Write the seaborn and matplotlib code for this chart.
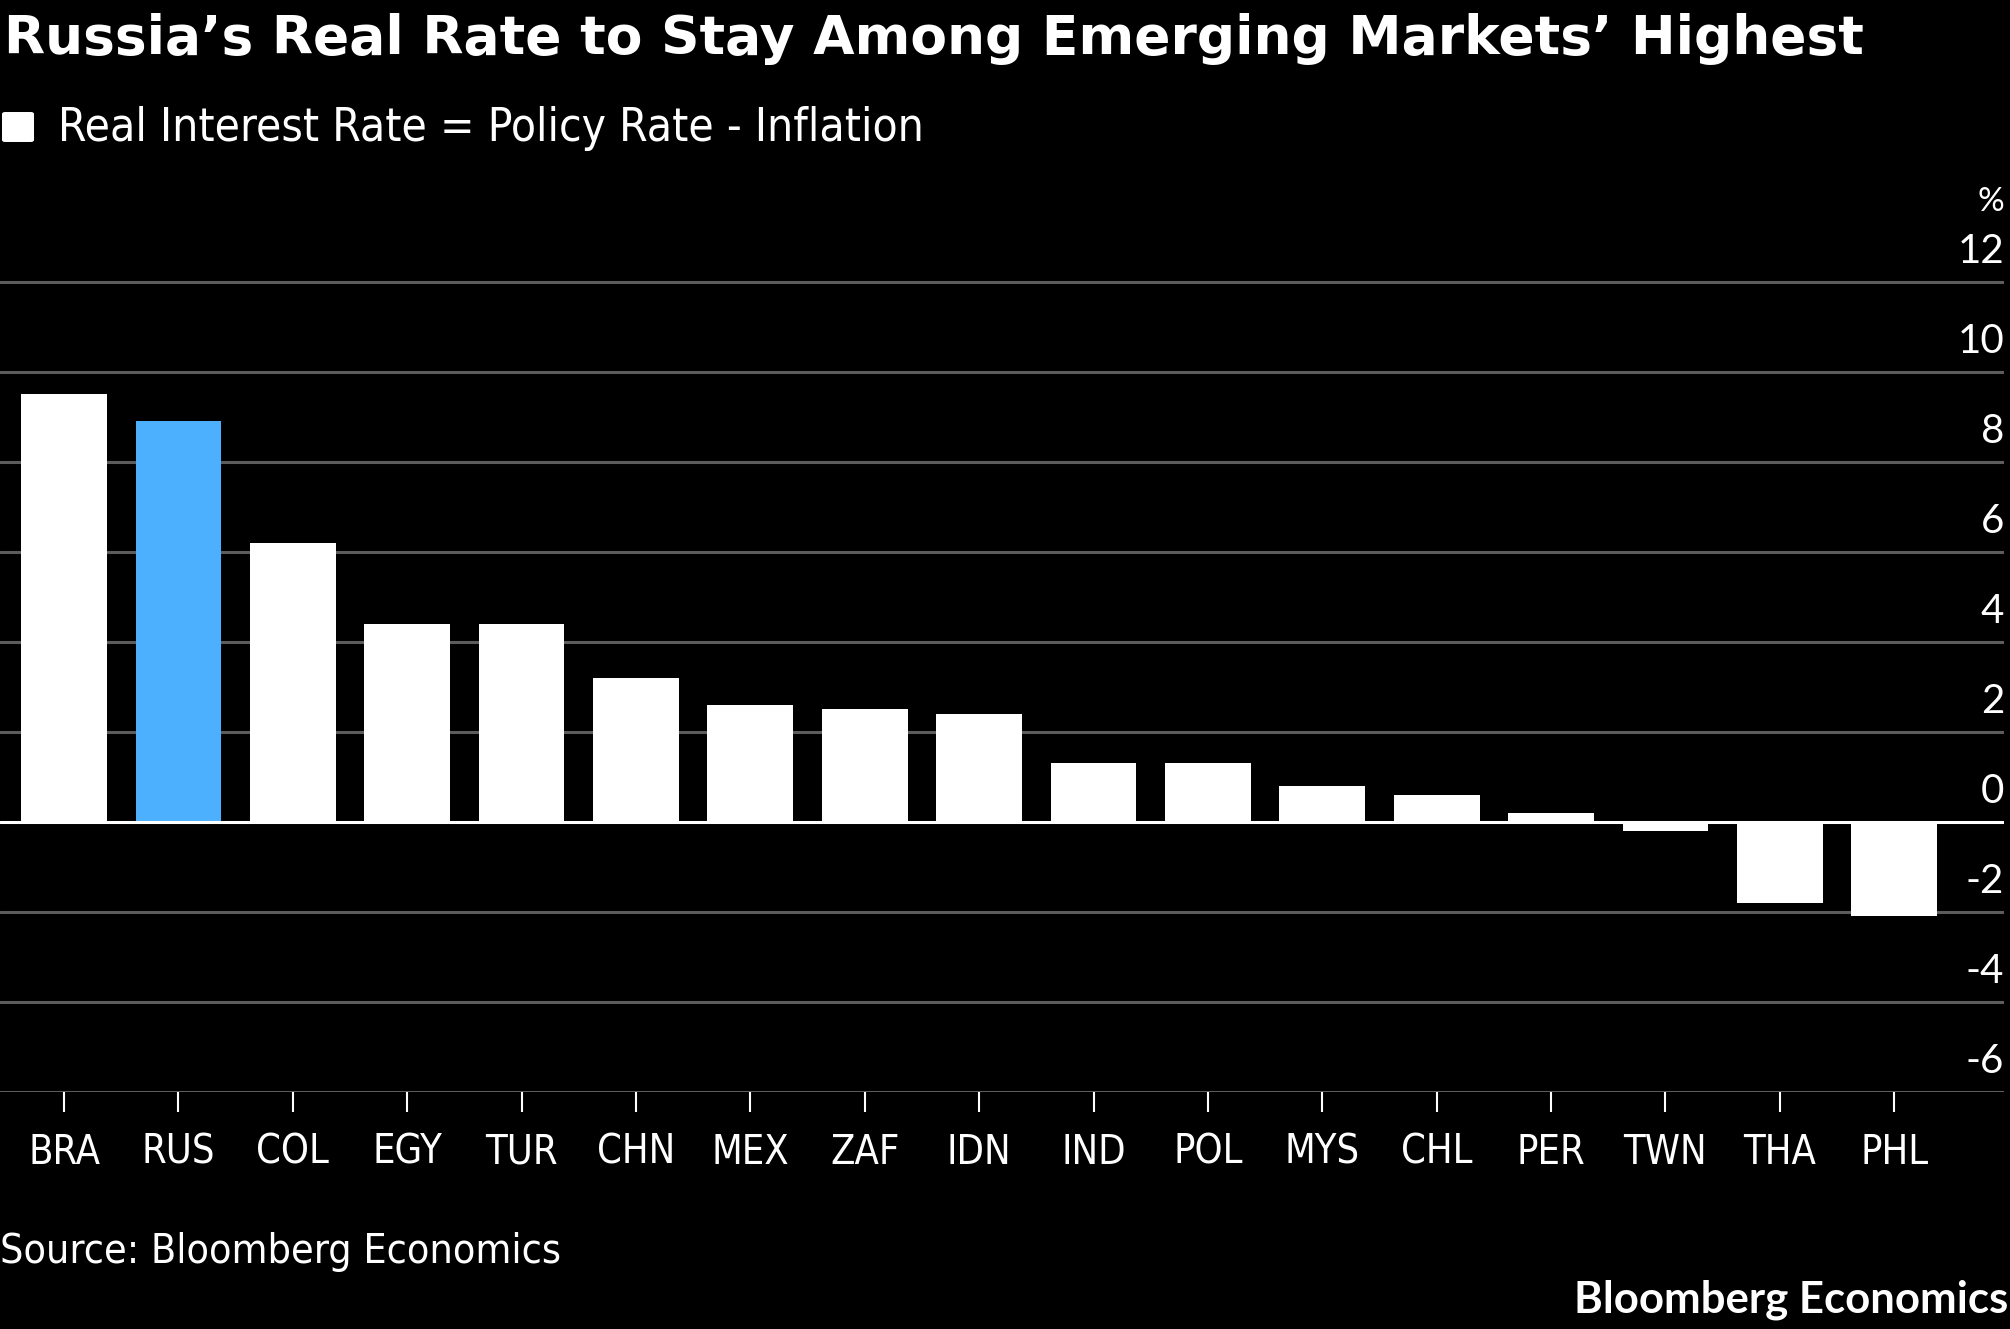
import numpy as np
import pandas as pd
import matplotlib
matplotlib.use("Agg")
import matplotlib.pyplot as plt
import seaborn as sns
from matplotlib import font_manager
from matplotlib.patches import FancyBboxPatch
from matplotlib.transforms import offset_copy

#%%

# Datos

paises = ["BRA", "RUS", "COL", "EGY", "TUR", "CHN", "MEX", "ZAF", "IDN",
          "IND", "POL", "MYS", "CHL", "PER", "TWN", "THA", "PHL"]
tasa_real = [9.5, 8.9, 6.2, 4.4, 4.4, 3.2, 2.6, 2.5, 2.4,
             1.3, 1.3, 0.8, 0.6, 0.2, -0.2, -1.8, -2.1]
destacado = "RUS"

y_ticks = [-6, -4, -2, 0, 2, 4, 6, 8, 10, 12]

titulo = "Russia\u2019s Real Rate to Stay Among Emerging Markets\u2019 Highest"
subtitulo = "Real Interest Rate = Policy Rate - Inflation"
fuente = "Source: Bloomberg Economics"
marca = "Bloomberg Economics"

#%%

def pick_font(candidates):
    """Regresa la primera familia instalada de la lista."""
    names = {f.name for f in font_manager.fontManager.ttflist}
    for c in candidates:
        if c in names:
            return c
    return "DejaVu Sans"


sns.set_theme(style="dark")
plt.rcParams["font.family"] = ["DejaVu Sans"]

numeros = pick_font(["Lato", "Open Sans", "DejaVu Sans"])
COND = dict(fontfamily="DejaVu Sans", fontstretch="condensed")

BLANCO = "white"
AZUL = "#4db0ff"
GRIS = "#5c5c5c"

W, H = 2010, 1329
fig = plt.figure(figsize=(W / 100, H / 100), dpi=100, facecolor="black")

# ejes en pixeles del original
ax_left, ax_right = 0, 2004
y_bottom_px, y_top_px = 1091.7, 191.7
ax = fig.add_axes([ax_left / W, 1 - y_bottom_px / H,
                   (ax_right - ax_left) / W, (y_bottom_px - y_top_px) / H])
ax.set_facecolor("black")

df = pd.DataFrame({"pais": paises, "valor": tasa_real})
colores = {p: (AZUL if p == destacado else BLANCO) for p in paises}

sns.barplot(data=df, x="pais", y="valor", hue="pais", palette=colores,
            width=0.75, legend=False, ax=ax, zorder=2, saturation=1,
            edgecolor="none")

ax.set_ylim(-6, 14)
ax.set_xlim(-0.56, 16.96)

# grid
for v in y_ticks:
    if v == 0:
        continue
    ax.axhline(v, color=GRIS, lw=2.2, zorder=1)
ax.axhline(0, color=BLANCO, lw=2.2, zorder=3)

for s in ax.spines.values():
    s.set_visible(False)

ax.set_xlabel("")
ax.set_ylabel("")
ax.set_yticks([])
ax.tick_params(axis="x", colors=BLANCO, length=14.4, width=1.5, pad=15,
               labelsize=28.5, bottom=True)
for lab in ax.get_xticklabels():
    lab.set_fontfamily("DejaVu Sans")
    lab.set_fontstretch("condensed")
    lab.set_color(BLANCO)

# etiquetas del eje y, arriba de cada linea, a la derecha
tr = offset_copy(ax.get_yaxis_transform(), fig=fig, x=0, y=19, units="dots")
for v in y_ticks:
    ax.text(1.0, v, str(v), transform=tr, ha="right", va="baseline",
            color=BLANCO, fontsize=29, fontfamily=numeros)
ax.text(1.0, 12, "%", transform=offset_copy(ax.get_yaxis_transform(), fig=fig,
                                             x=0, y=71, units="dots"),
        ha="right", va="baseline", color=BLANCO, fontsize=24, fontfamily=numeros)

# textos
fig.text(4 / W, 1 - 54 / H, titulo, color=BLANCO, fontsize=38.5,
         fontweight="bold", fontfamily="DejaVu Sans",
         ha="left", va="baseline")

fig.patches.append(FancyBboxPatch((5 / W, 1 - 140 / H), 26 / W, 26 / H,
                                  boxstyle="round,pad=0.0015", transform=fig.transFigure,
                                  facecolor=BLANCO, edgecolor="none"))
fig.text(58 / W, 1 - 141 / H, subtitulo, color=BLANCO, fontsize=33,
         ha="left", va="baseline", **COND)

fig.text(0, 1 - 1263 / H, fuente, color=BLANCO, fontsize=29.5,
         ha="left", va="baseline", **COND)
fig.text(2008 / W, 1 - 1313 / H, marca, color=BLANCO, fontsize=31.5,
         fontweight="bold", fontfamily=numeros, ha="right", va="baseline")

fig.savefig("out.png", dpi=100, facecolor="black")
